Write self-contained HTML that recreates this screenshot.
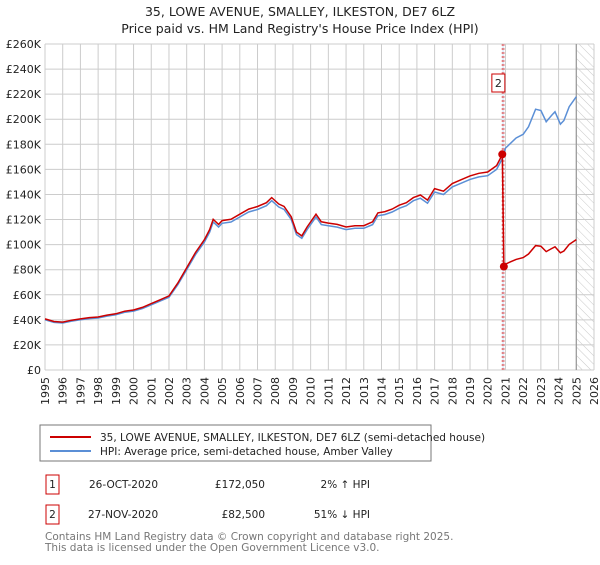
<!DOCTYPE html>
<html><head><meta charset="utf-8"><style>
body{margin:0;background:#fff;font-family:"Liberation Sans","DejaVu Sans",sans-serif;}
svg text{font-family:"DejaVu Sans","Liberation Sans",sans-serif;}
</style></head><body>
<svg id="c" width="600" height="560" xmlns="http://www.w3.org/2000/svg">
<defs><pattern id="hatch" width="6" height="6" patternUnits="userSpaceOnUse" patternTransform="rotate(-45)"><line x1="0" y1="0" x2="0" y2="6" stroke="#bbb" stroke-width="0.8"/></pattern></defs>
<text x="300" y="16" text-anchor="middle" font-size="12.5" fill="#222">35, LOWE AVENUE, SMALLEY, ILKESTON, DE7 6LZ</text>
<text x="300" y="33" text-anchor="middle" font-size="12.5" fill="#222">Price paid vs. HM Land Registry's House Price Index (HPI)</text>
<g id="grid"></g><g id="axes"></g><g id="marks"></g>
<rect x="40" y="425" width="391" height="36" fill="#fff" stroke="#777"/>
<line x1="50" y1="437" x2="91" y2="437" stroke="#cc0000" stroke-width="2"/>
<text x="100" y="441" font-size="10.5" fill="#222">35, LOWE AVENUE, SMALLEY, ILKESTON, DE7 6LZ (semi-detached house)</text>
<line x1="50" y1="451" x2="91" y2="451" stroke="#5b8fd6" stroke-width="2"/>
<text x="100" y="455" font-size="10.5" fill="#222">HPI: Average price, semi-detached house, Amber Valley</text>
<g font-size="10.5" fill="#222">
<rect x="46" y="475" width="13" height="19" fill="none" stroke="#cc0000"/>
<text x="52.5" y="488" text-anchor="middle">1</text>
<text x="89" y="488">26-OCT-2020</text>
<text x="265" y="488" text-anchor="end">£172,050</text>
<text x="370" y="488" text-anchor="end">2% ↑ HPI</text>
<rect x="46" y="505" width="13" height="19" fill="none" stroke="#cc0000"/>
<text x="52.5" y="518" text-anchor="middle">2</text>
<text x="88" y="518">27-NOV-2020</text>
<text x="265" y="518" text-anchor="end">£82,500</text>
<text x="370" y="518" text-anchor="end">51% ↓ HPI</text>
</g>
<text x="45" y="540" font-size="10.5" fill="#777">Contains HM Land Registry data © Crown copyright and database right 2025.</text>
<text x="45" y="551" font-size="10.5" fill="#777">This data is licensed under the Open Government Licence v3.0.</text>
</svg>
<script>
const hpiDates=[1995,1995.5,1996,1996.5,1997,1997.5,1998,1998.5,1999,1999.5,2000,2000.5,2001,2001.5,2002,2002.5,2003,2003.5,2004,2004.3,2004.5,2004.8,2005,2005.5,2006,2006.5,2007,2007.5,2007.8,2008.2,2008.5,2008.9,2009.2,2009.5,2009.8,2010.3,2010.6,2011,2011.5,2012,2012.5,2013,2013.5,2013.8,2014.2,2014.6,2015,2015.4,2015.8,2016.2,2016.6,2017,2017.5,2018,2018.5,2019,2019.5,2020,2020.5,2020.8,2021,2021.3,2021.6,2022,2022.3,2022.7,2023,2023.3,2023.6,2023.8,2024.1,2024.3,2024.6,2025.0];
const hpiValues=[40000,38000,37500,39000,40000,41000,41500,43000,44000,46000,47000,49000,52000,55000,58000,68000,80000,92000,102000,110000,118000,114000,117000,118000,122000,126000,128000,131000,135000,130000,128000,120000,108000,105000,112000,122000,116000,115000,114000,112000,113000,113000,116000,123000,124000,126000,129000,131000,135000,137000,133000,142000,140000,146000,149000,152000,154000,155000,160000,168000,177000,181000,185000,188000,194000,208000,207000,198000,203000,206000,196000,199000,210000,218000];
const saleDates=[2020.82,2020.91];
const salePrices=[172050,82500];
const yTicks=[0,20000,40000,60000,80000,100000,120000,140000,160000,180000,200000,220000,240000,260000];
const yTickLabels=["£0","£20K","£40K","£60K","£80K","£100K","£120K","£140K","£160K","£180K","£200K","£220K","£240K","£260K"];
const xTicks=[1995,1996,1997,1998,1999,2000,2001,2002,2003,2004,2005,2006,2007,2008,2009,2010,2011,2012,2013,2014,2015,2016,2017,2018,2019,2020,2021,2022,2023,2024,2025,2026];
const NS='http://www.w3.org/2000/svg';
const X0=45,X1=594,Y0=370,Y1=44;
const xs=d=>X0+(d-1995)/(2026-1995)*(X1-X0);
const ys=v=>Y0-v/260000*(Y0-Y1);
function mk(tag,attrs,parent){const e=document.createElementNS(NS,tag);for(const k in attrs)e.setAttribute(k,attrs[k]);(typeof parent==='string'?document.getElementById(parent):parent).appendChild(e);return e;}
function hpiAt(d){for(let i=1;i<hpiDates.length;i++){if(d<=hpiDates[i]){const t=(d-hpiDates[i-1])/(hpiDates[i]-hpiDates[i-1]);return hpiValues[i-1]+t*(hpiValues[i]-hpiValues[i-1]);}}return hpiValues[hpiValues.length-1];}
let h=mk('rect',{x:xs(2025.0),y:Y1,width:X1-xs(2025.0),height:Y0-Y1,fill:'url(#hatch)'},'grid');


yTicks.forEach((v,i)=>{let l=mk('line',{x1:X0,x2:X1,y1:ys(v),y2:ys(v),stroke:'#ccc','stroke-width':1},'grid');


let t=mk('text',{x:X0-4,y:ys(v)+4,'text-anchor':'end','font-size':'11',fill:'#222'},'axes');t.textContent=yTickLabels[i];

});
xTicks.forEach(d=>{let l=mk('line',{x1:xs(d),x2:xs(d),y1:Y1,y2:Y0,stroke:'#ccc','stroke-width':1},'grid');


const tx=xs(d)+4,ty=377;
let g=mk('g',{transform:'translate('+tx.toFixed(1)+','+ty+') rotate(-90)'},'axes');
let t=mk('text',{x:0,y:0,'text-anchor':'end','font-size':'11',fill:'#222'},g);t.textContent=d;

});
let fl=mk('line',{x1:xs(2025.0),x2:xs(2025.0),y1:Y1,y2:Y0,stroke:'#999','stroke-width':1.2},'grid');


let band=mk('rect',{x:xs(saleDates[0]),y:Y1,width:xs(saleDates[1])-xs(saleDates[0]),height:Y0-Y1,fill:'#dde8f8'},'grid');


saleDates.forEach(d=>{let v=mk('line',{x1:xs(d),x2:xs(d),y1:Y1,y2:Y0,stroke:'#e06060','stroke-width':1,'stroke-dasharray':'2,2'},'grid');

});
let p=hpiDates.map((d,i)=>(i?'L':'M')+xs(d).toFixed(1)+','+ys(hpiValues[i]).toFixed(1)).join('');
let hl=mk('path',{d:p,fill:'none',stroke:'#5b8fd6','stroke-width':1.5},'marks');


const r1=salePrices[0]/hpiAt(saleDates[0]),r2=salePrices[1]/hpiAt(saleDates[1]);
let pts=[];
hpiDates.forEach((d,i)=>{if(d<saleDates[0])pts.push([d,hpiValues[i]*r1]);});
pts.push([saleDates[0],salePrices[0]]);pts.push([saleDates[1],salePrices[1]]);
hpiDates.forEach((d,i)=>{if(d>saleDates[1])pts.push([d,hpiValues[i]*r2]);});
let rp=pts.map((q,i)=>(i?'L':'M')+xs(q[0]).toFixed(1)+','+ys(q[1]).toFixed(1)).join('');
let rl=mk('path',{d:rp,fill:'none',stroke:'#cc0000','stroke-width':1.5},'marks');


saleDates.forEach((d,i)=>{let c=mk('circle',{cx:xs(d),cy:ys(salePrices[i]),r:4,fill:'#cc0000'},'marks');

});
let bx=xs(saleDates[1])-12;
let b=mk('rect',{x:bx,y:74,width:13,height:18,fill:'#fff',stroke:'#cc0000'},'marks');


let bt=mk('text',{x:bx+6.5,y:87,'text-anchor':'middle','font-size':'11',fill:'#222'},'marks');bt.textContent='2';


</script>
</body></html>
